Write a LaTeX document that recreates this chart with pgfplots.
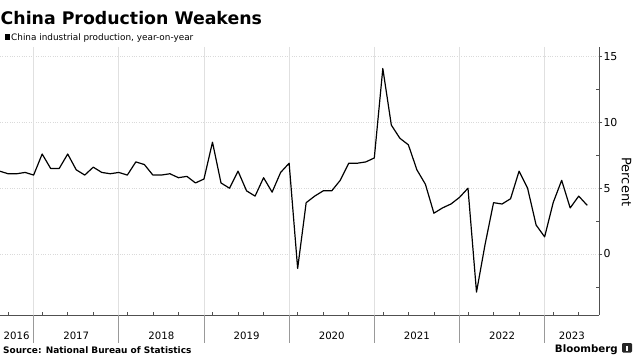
\documentclass[border=0pt]{standalone}
\usepackage{fontspec}
\setmainfont{DejaVu Sans}
\usepackage{pgfplots}
\pgfplotsset{compat=1.18}
\definecolor{axisgray}{HTML}{505050}
\definecolor{gridgray}{HTML}{DADADA}
\definecolor{vgridgray}{HTML}{E0E0E0}
\begin{document}
\begin{tikzpicture}[x=1bp,y=1bp]
\useasboundingbox (0,-42) rectangle (635,315);
\begin{axis}[
  at={(0,0)}, anchor=south west,
  scale only axis, width=599.3bp, height=268.3bp,
  xmin=-3.95, xmax=66.42, ymin=-4.64, ymax=15.76,
  clip mode=individual,
  axis x line*=bottom, axis y line*=right,
  axis line style={-, draw=axisgray, line width=0.8bp},
  tick align=outside,
  major tick length=3bp, minor tick length=3bp,
  xtick={-2,5,15,25,35,45,55,63.2},
  xticklabels={2016,2017,2018,2019,2020,2021,2022,2023},
  major x tick style={draw=none},
  xticklabel style={anchor=base, inner sep=0pt, yshift=-21bp, font=\fontsize{10.2}{12}\selectfont},
  ytick={0,5,10,15},
  minor ytick={-2.5,2.5,7.5,12.5},
  major y tick style={draw=axisgray, line width=0.8bp},
  minor y tick style={xshift=-3bp, draw=axisgray, line width=0.6bp},
  yticklabel style={anchor=west, inner sep=0pt, xshift=1bp, font=\fontsize{11}{12}\selectfont},
  /pgf/number format/assume math mode=true,
  ymajorgrids=true,
  major grid style={dotted, draw=gridgray, line width=0.9bp},
]
\pgfplotsinvokeforeach{0,10,20,30,40,50,60}{
  \draw[draw=vgridgray, line width=0.9bp] (axis cs:#1,15.76) -- (axis cs:#1,-4.64);
  \draw[draw=black!40, line width=0.8bp] (axis cs:#1,-4.64) -- ([yshift=-28bp]axis cs:#1,-4.64);
}
\pgfplotsinvokeforeach{-3,1,4,7,11,14,17,21,24,27,31,34,37,41,44,47,51,54,57,61,64}{
  \draw[draw=axisgray, line width=0.6bp] (axis cs:#1,-4.64) -- ([yshift=3bp]axis cs:#1,-4.64);
}
\addplot[black, line width=1.2bp, line join=round] coordinates {
(-5,6.0)(-4,6.3)(-3,6.1)(-2,6.1)(-1,6.2)(0,6.0)
(1,7.6)(2,6.5)(3,6.5)(4,7.6)(5,6.4)(6,6.0)(7,6.6)(8,6.2)(9,6.1)(10,6.2)
(11,6.0)(12,7.0)(13,6.8)(14,6.0)(15,6.0)(16,6.1)(17,5.8)(18,5.9)(19,5.4)(20,5.7)
(21,8.5)(22,5.4)(23,5.0)(24,6.3)(25,4.8)(26,4.4)(27,5.8)(28,4.7)(29,6.2)(30,6.9)
(31,-1.1)(32,3.9)(33,4.4)(34,4.8)(35,4.8)(36,5.6)(37,6.9)(38,6.9)(39,7.0)(40,7.3)
(41,14.1)(42,9.8)(43,8.8)(44,8.3)(45,6.4)(46,5.3)(47,3.1)(48,3.5)(49,3.8)(50,4.3)
(51,5.0)(52,-2.9)(53,0.7)(54,3.9)(55,3.8)(56,4.2)(57,6.3)(58,5.0)(59,2.2)(60,1.3)
(61,3.9)(62,5.6)(63,3.5)(64,4.4)(65,3.7)
};
\end{axis}
% texts
\node[anchor=base west, inner sep=0pt] at (0.5,291)
  {\fontsize{17.4}{20}\selectfont\bfseries China Production Weakens};
\fill (4.7,275.3) rectangle (9.7,280.7);
\node[anchor=base west, inner sep=0pt] at (11,275)
  {\fontsize{8.9}{10}\selectfont China industrial production, year-on-year};
\node[rotate=-90, inner sep=0pt] at (626.5,133)
  {\fontsize{13}{15}\selectfont Percent};
\node[anchor=base west, inner sep=0pt] at (3,-38.5)
  {\fontsize{9}{10}\selectfont\bfseries Source: National Bureau of Statistics};
\node[anchor=base east, inner sep=0pt] at (618,-37)
  {\fontsize{10.3}{12}\selectfont\bfseries Bloomberg};
\fill[black!85, rounded corners=1.2bp] (622,-37.5) rectangle (632,-28);
\fill[white] (626.3,-35.5) rectangle (627.7,-30.5);
\end{tikzpicture}
\end{document}
